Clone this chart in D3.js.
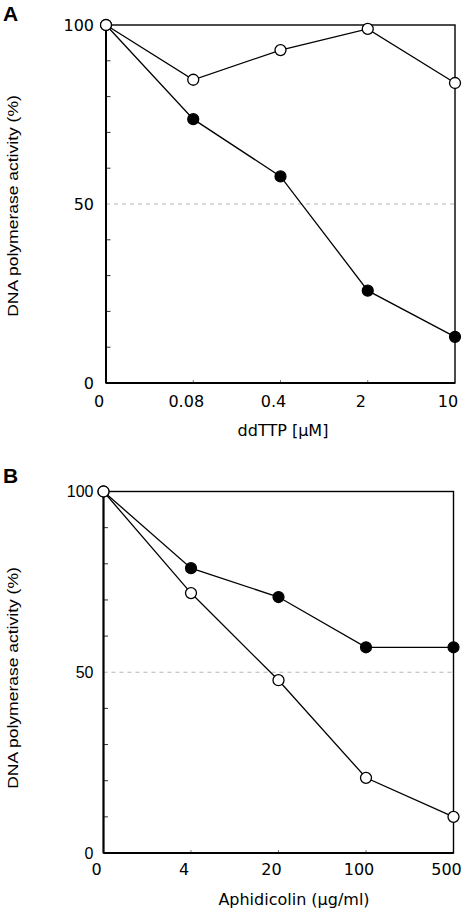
<!DOCTYPE html>
<html><head><meta charset="utf-8">
<script src="https://cdn.jsdelivr.net/npm/d3@7/dist/d3.min.js"></script>
<style>body{margin:0;background:#fff}svg{display:block}</style>
</head><body>
<svg id="c" width="466" height="914"></svg>
<script>
// Panel A
const catsA = ["0", "0.08", "0.4", "2", "10"];
const openA = [100, 84.7, 93, 98.9, 83.8];
const filledA = [100, 73.7, 57.7, 25.8, 12.9];
// Panel B
const catsB = ["0", "4", "20", "100", "500"];
const openB = [100, 71.9, 47.8, 20.8, 10.0];
const filledB = [100, 78.8, 70.8, 56.9, 56.9];
const yTickLabels = [0, 50, 100];
const yMinorTicks = [10, 20, 30, 40, 60, 70, 80, 90];

const svg = d3.select("#c");

function panel(o) {
  const g = svg.append("g");
  const x = d3.scalePoint().domain(o.cats).range([o.left, o.right]);
  const y = d3.scaleLinear().domain([0, 100]).range([o.bottom, o.top]);

  g.append("line").attr("x1", o.left).attr("x2", o.right)
    .attr("y1", y(50)).attr("y2", y(50))
    .attr("stroke", "#b5b5b5").attr("stroke-width", 1).attr("stroke-dasharray", "4,4");

  g.selectAll(".mt").data(yMinorTicks).enter().append("line")
    .attr("x1", o.left).attr("x2", o.left + 4.5)
    .attr("y1", d => y(d)).attr("y2", d => y(d))
    .attr("stroke", "#333").attr("stroke-width", 1);
  g.selectAll(".bt").data(o.cats.slice(1, -1)).enter().append("line")
    .attr("x1", d => x(d)).attr("x2", d => x(d))
    .attr("y1", o.bottom).attr("y2", o.bottom - 3)
    .attr("stroke", "#777").attr("stroke-width", 1);

  g.append("rect").attr("x", o.left).attr("y", o.top)
    .attr("width", o.right - o.left).attr("height", o.bottom - o.top)
    .attr("fill", "none").attr("stroke", "#000").attr("stroke-width", 1.4);
  g.append("line").attr("x1", o.left).attr("x2", o.left)
    .attr("y1", o.top).attr("y2", o.bottom).attr("stroke", "#000").attr("stroke-width", 2);
  g.append("line").attr("x1", o.left).attr("x2", o.right)
    .attr("y1", o.bottom).attr("y2", o.bottom).attr("stroke", "#000").attr("stroke-width", 2);

  g.selectAll(".yl").data(yTickLabels).enter().append("text")
    .attr("x", o.left - o.ylGap).attr("y", d => y(d) + 5.5)
    .attr("text-anchor", "end")
    .attr("font-family", o.ylFont).attr("font-size", 16).attr("fill", "#000")
    .text(d => d);

  g.selectAll(".xl").data(o.cats).enter().append("text")
    .attr("x", d => x(d) - 7).attr("y", o.bottom + o.xlOff)
    .attr("text-anchor", "middle")
    .attr("font-family", "DejaVu Sans, Verdana, sans-serif").attr("font-size", 16).attr("fill", "#000")
    .text(d => d);

  g.append("text").attr("x", o.xtX).attr("y", o.xtY)
    .attr("text-anchor", "middle")
    .attr("font-family", "DejaVu Sans, Verdana, sans-serif").attr("font-size", 16).attr("fill", "#000")
    .text(o.xTitle);

  g.append("text")
    .attr("transform", `translate(18,${o.ytY}) rotate(-90) scale(1.13,1)`)
    .attr("text-anchor", "middle")
    .attr("font-family", "Liberation Sans, Arial, sans-serif").attr("font-size", 15.5).attr("fill", "#000")
    .text("DNA polymerase activity (%)");

  g.append("text").attr("x", 3).attr("y", o.letterY)
    .attr("font-family", "Liberation Sans, Arial, sans-serif").attr("font-weight", "bold")
    .attr("font-size", 21).attr("fill", "#000").text(o.letter);

  const line = d3.line().x((d, i) => x(o.cats[i])).y(d => y(d));
  [o.filled, o.open].forEach(vals => {
    g.append("path").datum(vals).attr("d", line)
      .attr("fill", "none").attr("stroke", "#000").attr("stroke-width", 1.3);
  });
  g.selectAll(".fc").data(o.filled).enter().append("circle")
    .attr("cx", (d, i) => x(o.cats[i])).attr("cy", d => y(d)).attr("r", 5.5)
    .attr("fill", "#000").attr("stroke", "#000").attr("stroke-width", 1.2);
  g.selectAll(".oc").data(o.open).enter().append("circle")
    .attr("cx", (d, i) => x(o.cats[i])).attr("cy", d => y(d)).attr("r", 5.5)
    .attr("fill", "#fff").attr("stroke", "#000").attr("stroke-width", 1.3);
}

panel({
  cats: catsA, open: openA, filled: filledA,
  left: 106, right: 455, top: 25, bottom: 383,
  ylGap: 12, ylFont: "DejaVu Sans, Verdana, sans-serif",
  xlOff: 24, xTitle: "ddTTP [\u03bcM]", xtX: 283, xtY: 436,
  ytY: 206, letter: "A", letterY: 21
});
panel({
  cats: catsB, open: openB, filled: filledB,
  left: 103.5, right: 453.5, top: 491.5, bottom: 853,
  ylGap: 10, ylFont: "Liberation Sans, Arial, sans-serif",
  xlOff: 22, xTitle: "Aphidicolin (\u03bcg/ml)", xtX: 294, xtY: 905,
  ytY: 678, letter: "B", letterY: 483
});
</script>
</body></html>
